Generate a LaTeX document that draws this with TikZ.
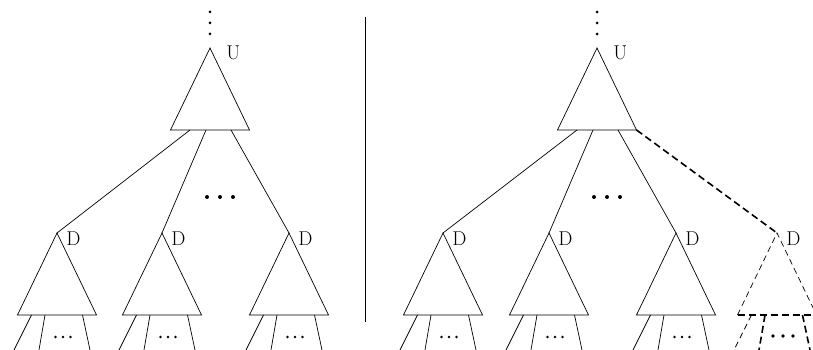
\documentclass[tikz,border=0pt]{standalone}
\usepackage{tikz}
\usetikzlibrary{calc}

\begin{document}
\begin{tikzpicture}[x=1pt, y=1pt, line width=0.7pt,
    lbl/.style={font=\fontsize{20}{20}\selectfont, inner sep=0pt, anchor=base west},
    thindash/.style={dash pattern=on 6pt off 4pt},
    thickdash/.style={line width=1.6pt, dash pattern=on 7pt off 4pt}]
  \useasboundingbox (0,0) rectangle (813,350);
  % upper trees
  \foreach \n/\x in {ul/210, ur/597} {
    \coordinate (\n) at (\x,302);
    \coordinate (\n-bl) at (\x-39.5,220);
    \coordinate (\n-br) at (\x+39.5,220);
    \coordinate (\n-o1) at (\x-20,220);
    \coordinate (\n-o2) at (\x-4,220);
    \coordinate (\n-o3) at (\x+21,220);
    \draw (\n) -- (\n-bl) -- (\n-br) -- cycle;
    \node[lbl] (\n-lab) at (\x+16,290) {U};
    % vertical dots above, dots between children
    \foreach \k in {0,1,2} {
      \fill (\x,338-11*\k) circle (1.5);
      \fill (\x-3+13*\k,153) circle (2);
    }
  }
  % lower trees
  \foreach \n/\x in {dl1/57, dl2/162, dl3/289, dr1/443, dr2/549, dr3/676, dr4/777} {
    \coordinate (\n) at (\x,117);
    \coordinate (\n-bl) at (\x-39.5,35);
    \coordinate (\n-br) at (\x+39.5,35);
    \coordinate (\n-s1) at (\x-25.5,35);
    \coordinate (\n-s2) at (\x-12,35);
    \coordinate (\n-s3) at (\x+25.5,35);
    \coordinate (\n-e1) at (\x-43,0);
    \coordinate (\n-e2) at (\x-18,0);
    \coordinate (\n-e3) at (\x+33,0);
    \node[lbl] (\n-lab) at (\x+9,104) {D};
  }
  \foreach \n/\x in {dl1/57, dl2/162, dl3/289, dr1/443, dr2/549, dr3/676} {
    \draw (\n) -- (\n-bl) -- (\n-br) -- cycle;
    \draw (\n-s1) -- (\n-e1) (\n-s2) -- (\n-e2) (\n-s3) -- (\n-e3);
    \foreach \k in {0,1,2}
      \fill (\x-1.5+7.5*\k,13) circle (1.3);
  }
  % edges
  \foreach \i in {1,2,3} {
    \draw (ul-o\i) -- (dl\i);
    \draw (ur-o\i) -- (dr\i);
  }
  % new subtree
  \draw[thickdash] (ur-br) -- (dr4);
  \draw[thindash] (dr4-bl) -- (dr4) -- (dr4-br);
  \draw[thickdash] (dr4-bl) -- (dr4-br);
  \draw[thindash] (dr4-s1) -- (dr4-e1);
  \draw[thickdash] (dr4-s2) -- (dr4-e2) (dr4-s3) -- (dr4-e3);
  \foreach \k in {0,1,2}
    \fill (773+10*\k,14) circle (1.8);
  % separator
  \draw[line width=1pt] (365,333) -- (365,28);
\end{tikzpicture}
\end{document}
